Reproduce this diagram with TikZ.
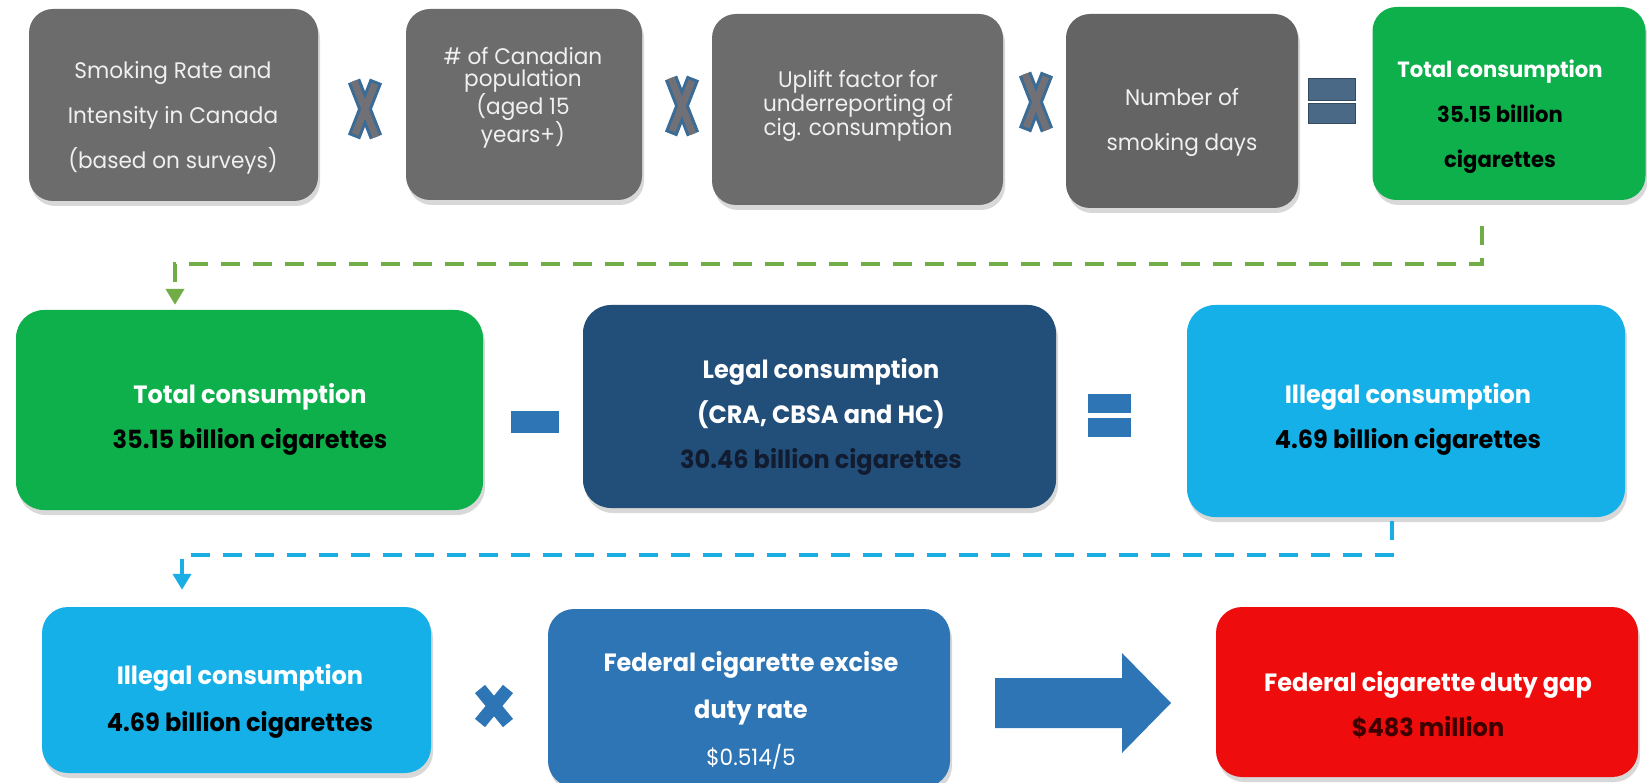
\documentclass[tikz,border=0pt]{standalone}
\usepackage{fontspec}
\setmainfont{Poppins}
\newfontfamily\cg{Poppins}[FakeStretch=0.96]
\usetikzlibrary{arrows.meta,shadows}
\definecolor{cgray}{RGB}{108,108,108}
\definecolor{cgrayd}{RGB}{100,100,100}
\definecolor{cgreen}{RGB}{14,176,76}
\definecolor{cdblue}{RGB}{34,78,122}
\definecolor{clblue}{RGB}{22,176,232}
\definecolor{cmblue}{RGB}{46,117,182}
\definecolor{cred}{RGB}{238,12,12}
\definecolor{xblue}{RGB}{58,108,150}
\definecolor{xgray}{RGB}{112,112,118}
\definecolor{eqgray}{RGB}{74,105,135}
\definecolor{gdash}{RGB}{112,173,71}
\definecolor{bdash}{RGB}{26,175,228}
\definecolor{numdark}{RGB}{18,28,48}
\definecolor{numred}{RGB}{60,0,0}
\definecolor{txtlight}{RGB}{240,240,240}
\newcommand\opX[2]{%
  \draw[line width=13pt, xblue] ({#1-11},{#2-28}) -- ({#1+11},{#2+28}) ({#1-11},{#2+28}) -- ({#1+11},{#2-28});
  \draw[line width=7pt, xgray, shorten <=3pt, shorten >=3pt] ({#1-11},{#2-28}) -- ({#1+11},{#2+28}) ({#1-11},{#2+28}) -- ({#1+11},{#2-28});}
\begin{document}
\begin{tikzpicture}[x=1pt,y=-1pt,
  box/.style={rectangle, rounded corners=24pt, inner sep=0pt,
    drop shadow={opacity=0.3, shadow xshift=2pt, shadow yshift=-5pt}},
  txt/.style={align=center, inner sep=0pt, text=white},
  regtxt/.style={txt, text=txtlight, font=\cg\fontsize{22.5}{45}\selectfont},
  tighttxt/.style={txt, text=txtlight, font=\cg\fontsize{22.5}{22.5}\selectfont},
  boldtxt/.style={txt, font=\cg\bfseries\fontsize{25}{45}\selectfont},
  conn/.style={line width=4.5pt, dash pattern=on 19pt off 13pt,
    -{Triangle[width=18pt,length=16pt]}}
]
\useasboundingbox (0,0) rectangle (1647,783);
\fill[white] (0,0) rectangle (1647,783);

% ---------- Row 1 ----------
\node[box, fill=cgray, minimum width=289pt, minimum height=192pt] (b1) at (173.5,105) {};
\node[box, fill=cgray, minimum width=236pt, minimum height=191pt] (b2) at (524,104.5) {};
\node[box, fill=cgray, minimum width=291pt, minimum height=191pt] (b3) at (857.5,109.5) {};
\node[box, fill=cgrayd, minimum width=232pt, minimum height=194pt] (b4) at (1182,111) {};
\node[box, fill=cgreen, minimum width=273pt, minimum height=193pt] (b5) at (1509,103.5) {};

\node[regtxt] (t1) at (173,118) {Smoking Rate and\\Intensity in Canada\\(based on surveys)};
\node[tighttxt] (t2) at (523,98) {\# of Canadian\\population\\(aged 15\\years+)};
\node[tighttxt] (t3) at (858,106) {Uplift factor for\\underreporting of\\cig. consumption};
\node[regtxt] (t4) at (1182,122) {Number of\\smoking days};
\node[txt, font=\cg\bfseries\fontsize{22}{45}\selectfont] (t5) at (1500,117)
  {Total consumption\\\textcolor{black}{35.15 billion}\\\textcolor{black}{cigarettes}};

\opX{365}{109}
\opX{682}{106}
\opX{1036}{102}
\fill[eqgray, draw=eqgray!70!black] (1308,78) rectangle (1355,100);
\fill[eqgray, draw=eqgray!70!black] (1308,103) rectangle (1355,123);

% ---------- Row 2 ----------
\node[box, rounded corners=28pt, fill=cgreen, minimum width=467pt, minimum height=200pt] (g2) at (249.5,410) {};
\node[box, rounded corners=28pt, fill=cdblue, minimum width=473pt, minimum height=203pt] (db) at (819.5,406.5) {};
\node[box, rounded corners=28pt, fill=clblue, minimum width=438pt, minimum height=212pt] (lb) at (1406,411) {};

\node[boldtxt] (tg2) at (250,419.5) {Total consumption\\\textcolor{black}{35.15 billion cigarettes}};
\node[boldtxt] (tdb) at (821,417) {Legal consumption\\(CRA, CBSA and HC)\\\textcolor{numdark}{30.46 billion cigarettes}};
\node[boldtxt] (tlb) at (1408,419.5) {Illegal consumption\\\textcolor{black}{4.69 billion cigarettes}};

\fill[cmblue] (511,411) rectangle (559,433);
\fill[cmblue] (1088,394) rectangle (1131,413);
\fill[cmblue] (1088,418) rectangle (1131,437);

% ---------- Row 3 ----------
\node[box, rounded corners=26pt, fill=clblue, minimum width=389pt, minimum height=166pt] (lb3) at (236.5,690) {};
\node[box, rounded corners=26pt, fill=cmblue, minimum width=402pt, minimum height=178pt] (mb) at (749,698) {};
\node[box, rounded corners=26pt, fill=cred, minimum width=422pt, minimum height=170pt] (rd) at (1427,692) {};

\node[boldtxt, font=\cg\bfseries\fontsize{25}{47}\selectfont] (tlb3) at (240,701) {Illegal consumption\\\textcolor{black}{4.69 billion cigarettes}};
\node[boldtxt, font=\cg\bfseries\fontsize{25}{47}\selectfont] (tmb) at (751,710) {Federal cigarette excise\\duty rate\\\mdseries\fontsize{22.5}{47}\selectfont\$0.514/5};
\node[boldtxt] (trd) at (1428,705) {Federal cigarette duty gap\\\textcolor{numred}{\$483 million}};

\draw[line width=13pt, cmblue] (480,689) -- (508,723) (480,723) -- (508,689);
\fill[cmblue] (995,678) -- (1122,678) -- (1122,653) -- (1171,703) -- (1122,753) -- (1122,728) -- (995,728) -- cycle;

% ---------- Connectors ----------
\coordinate (gs) at (1482,226);
\coordinate (gm) at (1482,264);
\coordinate (ge) at (175,264);
\draw[conn, gdash, shorten >=5pt] (gs) -- (gm) -- (ge) -- (ge |- g2.north);

\coordinate (bs) at (1392,521);
\coordinate (bm) at (1392,555);
\coordinate (be) at (182,555);
\draw[conn, bdash, shorten >=17pt] (bs) -- (bm) -- (be) -- (be |- lb3.north);
\end{tikzpicture}
\end{document}
